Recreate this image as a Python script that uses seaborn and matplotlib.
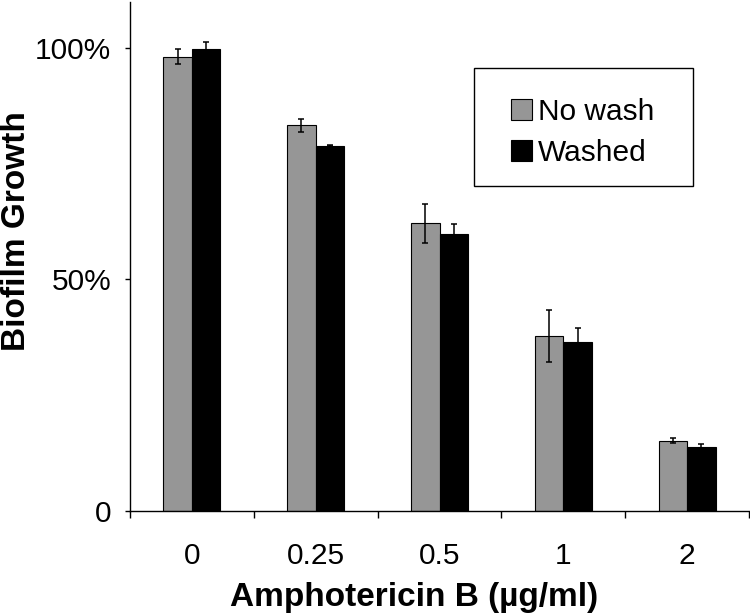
import numpy as np
import pandas as pd
import matplotlib
matplotlib.use('Agg')
import matplotlib.pyplot as plt
import seaborn as sns
from matplotlib.patches import Rectangle
from matplotlib.ticker import FixedLocator

# data (percent of untreated growth)
concentrations = ['0', '0.25', '0.5', '1', '2']
groups = ['No wash', 'Washed']
no_wash = [98.1, 83.3, 62.1, 37.8, 15.2]
no_wash_err = [1.7, 1.4, 4.2, 5.6, 0.5]
washed = [99.7, 78.9, 59.8, 36.5, 13.9]
washed_err = [1.6, 0.2, 2.2, 3.1, 0.5]
y_ticks = [0, 50, 100]
y_tick_labels = ['0', '50%', '100%']

bar_colors = {'No wash': '#969696', 'Washed': '#000000'}
errors = {'No wash': no_wash_err, 'Washed': washed_err}

df = pd.DataFrame({
    'conc': concentrations * 2,
    'group': [groups[0]] * len(concentrations) + [groups[1]] * len(concentrations),
    'growth': no_wash + washed,
})

sns.set_style('ticks', rc={'axes.edgecolor': 'black', 'xtick.color': 'black',
                           'ytick.color': 'black', 'text.color': 'black',
                           'axes.labelcolor': 'black'})
plt.rcParams['font.family'] = ['Liberation Sans', 'DejaVu Sans']

fig = plt.figure(figsize=(7.5, 6.15), dpi=100)
ax = fig.add_axes([130 / 750, 104 / 615, 619 / 750, 509.5 / 615])

sns.barplot(data=df, x='conc', y='growth', hue='group',
            order=concentrations, hue_order=groups, palette=bar_colors,
            width=0.46, gap=0, errorbar=None, saturation=1,
            edgecolor='black', linewidth=0.8, ax=ax)

# error bars on top of the bars seaborn drew
for cont, name in zip(ax.containers, groups):
    xs = [b.get_x() + b.get_width() / 2 for b in cont]
    ys = [b.get_height() for b in cont]
    ax.errorbar(xs, ys, yerr=errors[name], fmt='none', ecolor='black',
                elinewidth=1.1, capsize=2.1, capthick=1.1, zorder=5)

ax.set_ylim(0, 110)
ax.set_xlim(-0.5, len(concentrations) - 0.5)
ax.set_yticks(y_ticks)
ax.set_yticklabels(y_tick_labels)
ax.xaxis.set_minor_locator(FixedLocator(np.arange(-0.5, len(concentrations), 1)))
ax.tick_params(axis='x', which='major', length=0, pad=22, labelsize=21.5)
ax.tick_params(axis='x', which='minor', length=5, width=1, direction='out', bottom=True)
ax.tick_params(axis='y', length=3.6, width=1, direction='out', left=True, pad=10, labelsize=21.5)
sns.despine(ax=ax)
for side in ['left', 'bottom']:
    ax.spines[side].set_linewidth(1)
    ax.spines[side].set_color('black')

ax.set_xlabel('Amphotericin B (µg/ml)', fontsize=24, fontweight='bold')
ax.set_ylabel('Biofilm Growth', fontsize=24, fontweight='bold')
ax.xaxis.set_label_coords(0.4588, -0.14)
ax.yaxis.set_label_coords(-0.1583, 0.5486)

# legend with a square box around it
handles, labels = ax.get_legend_handles_labels()
ax.legend(handles, labels, loc='upper left',
          bbox_to_anchor=(511 / 750, 1 - 98 / 615), bbox_transform=fig.transFigure,
          frameon=False, borderpad=0, borderaxespad=0,
          handlelength=0.7, handleheight=0.7, handletextpad=0.19,
          labelspacing=0.43, fontsize=21.5)
fig.add_artist(Rectangle((474 / 750, 1 - 186 / 615), 219 / 750, 117.7 / 615,
                         transform=fig.transFigure, fill=False,
                         edgecolor='black', linewidth=1))

fig.savefig('out.png', dpi=100)
